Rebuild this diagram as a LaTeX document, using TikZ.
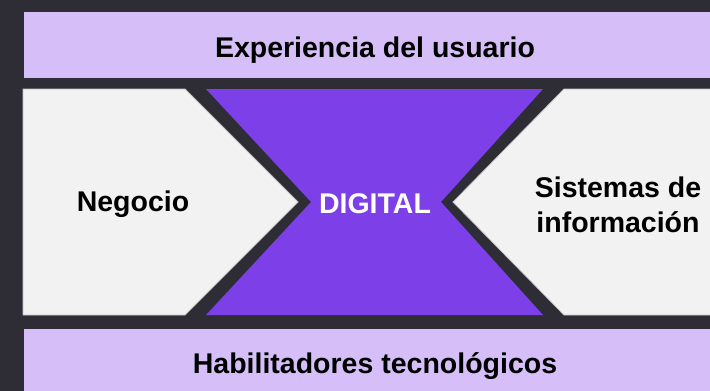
\documentclass[tikz,border=0pt]{standalone}
\usepackage{fontspec}
\setmainfont{Liberation Sans}
\definecolor{DigiBack}{RGB}{46,45,54}
\definecolor{DigiLavender}{RGB}{214,191,248}
\definecolor{DigiPurple}{RGB}{124,63,232}
\definecolor{DigiLight}{RGB}{242,242,242}
\definecolor{DigiEdge}{RGB}{196,196,196}
\begin{document}
\begin{tikzpicture}[x=1pt,y=-1pt,
  lbl/.style={font=\fontsize{28.5}{35}\selectfont\bfseries,align=center,inner sep=0pt,anchor=base},
  bar/.style={fill=DigiLavender},
  side/.style={fill=DigiLight,draw=DigiEdge,line width=0.8pt}]
\useasboundingbox (0,0) rectangle (710,391);
\fill[DigiBack] (0,0) rectangle (710,391);
% bands
\fill[bar] (24,12) rectangle (711,78);
\fill[bar] (24,329) rectangle (711,392);
% side chevrons
\path[side] (23,89) -- (185,89) -- (298,202) -- (185,315) -- (23,315) -- cycle;
\path[side] (711,89) -- (564,89) -- (453,202) -- (564,315) -- (711,315);
% centre
\fill[DigiPurple] (206,89) -- (543,89) -- (441,202) -- (543,315)
   -- (206,315) -- (311,202) -- cycle;
\node[lbl] (usuario) at (375,57) {Experiencia del usuario};
\node[lbl] (negocio) at (133,211) {Negocio};
\node[lbl,text=white] (digital) at (375,213) {DIGITAL};
\node[lbl] (sistemas) at (618,232) {Sistemas de\\información};
\node[lbl] (habil) at (375,373) {Habilitadores tecnológicos};
\end{tikzpicture}
\end{document}
